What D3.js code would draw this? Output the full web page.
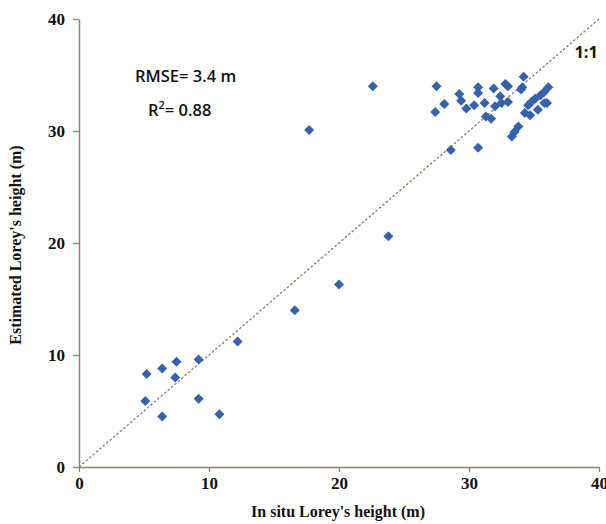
<!DOCTYPE html>
<html><head><meta charset="utf-8">
<script src="https://cdn.jsdelivr.net/npm/d3@7"></script>
<style>body{margin:0;background:#fff;} svg{display:block;}</style>
</head><body>
<svg id="c" width="606" height="524"></svg>
<script>
const insitu = [5.2,6.4,7.5,9.2,7.4,5.1,6.4,9.2,10.8,12.2,16.6,20.0,17.7,22.6,23.8,
  27.5,27.4,28.1,28.6,29.25,29.4,29.8,30.4,30.7,30.7,31.2,30.7,31.3,31.7,31.9,32.0,32.4,32.5,32.8,33.0,33.0,
  34.2,34.1,34.0,34.55,34.3,34.7,33.3,33.5,33.8,35.1,35.5,35.8,36.1,35.3,35.8,34.8,36.0];
const estimated = [8.3,8.8,9.4,9.6,8.0,5.9,4.5,6.1,4.7,11.2,14.0,16.3,30.1,34.0,20.6,
  34.0,31.7,32.4,28.3,33.3,32.7,32.0,32.3,33.9,33.4,32.5,28.5,31.3,31.1,33.8,32.2,33.1,32.5,34.2,34.0,32.6,
  34.85,33.9,33.7,32.3,31.6,31.4,29.5,29.9,30.4,32.9,33.2,33.5,33.9,31.9,32.5,32.6,32.5];
const xTicks = [0,10,20,30,40];
const yTicks = [0,10,20,30,40];
const lineEnds = [0,40];

const svg = d3.select("#c");
const x = d3.scaleLinear().domain([0,40]).range([79,599]);
const y = d3.scaleLinear().domain([0,40]).range([467,19]);
const axisCol = "#8c8279";

// 1:1 line
svg.append("line")
  .attr("x1", x(lineEnds[0])).attr("y1", y(lineEnds[0]))
  .attr("x2", x(lineEnds[1])).attr("y2", y(lineEnds[1]))
  .attr("stroke","#8a7a6c").attr("stroke-width",1.3).attr("stroke-dasharray","2.5,2");

const xa = svg.append("g").attr("transform","translate(0,467)")
  .call(d3.axisBottom(x).tickValues(xTicks).tickSize(6).tickPadding(4).tickSizeOuter(0));
const ya = svg.append("g").attr("transform","translate(79,0)")
  .call(d3.axisLeft(y).tickValues(yTicks).tickSize(6).tickPadding(8).tickSizeOuter(0));
[xa,ya].forEach(g=>{
  g.select(".domain").attr("stroke",axisCol).attr("stroke-width",1.5);
  g.selectAll(".tick line").attr("stroke",axisCol).attr("stroke-width",1.3);
  g.selectAll(".tick text").attr("fill","#111")
    .style("font-family","'Liberation Serif', serif").style("font-weight","bold").style("font-size","17px");
});
xa.selectAll(".tick line").attr("y2",5);
ya.selectAll(".tick line").attr("x2",-6);

// points (square diamonds)
const sym = d3.symbol().type(d3.symbolSquare).size(50);
svg.append("g").selectAll("path").data(insitu.map((v,i)=>[v,estimated[i]])).join("path")
  .attr("d", sym)
  .attr("transform", d=>`translate(${x(d[0])},${y(d[1])}) rotate(45)`)
  .attr("fill","#3462ad");

// titles
svg.append("text").attr("x",338).attr("y",517).attr("text-anchor","middle")
  .style("font-family","'Liberation Serif', serif").style("font-weight","bold").style("font-size","16px")
  .attr("fill","#111").text("In situ Lorey's height (m)");
svg.append("text").attr("transform","translate(21,245) rotate(-90)").attr("text-anchor","middle")
  .style("font-family","'Liberation Serif', serif").style("font-weight","bold").style("font-size","16px")
  .attr("fill","#111").text("Estimated Lorey's height (m)");

const sans = "'Open Sans', 'Noto Sans', sans-serif";
svg.append("text").attr("x",135).attr("y",82)
  .style("font-family",sans).style("font-weight","600").style("font-size","16.5px").attr("fill","#111")
  .text("RMSE= 3.4 m");
const r2 = svg.append("text").attr("x",148).attr("y",116)
  .style("font-family",sans).style("font-weight","600").style("font-size","16.5px").attr("fill","#111");
r2.append("tspan").text("R");
r2.append("tspan").attr("dy",-7).style("font-size","11px").text("2");
r2.append("tspan").attr("dy",7).text("= 0.88");
svg.append("text").attr("x",598).attr("y",58).attr("text-anchor","end")
  .style("font-family",sans).style("font-weight","bold").style("font-size","16.5px").attr("fill","#111")
  .text("1:1");
</script>
</body></html>
